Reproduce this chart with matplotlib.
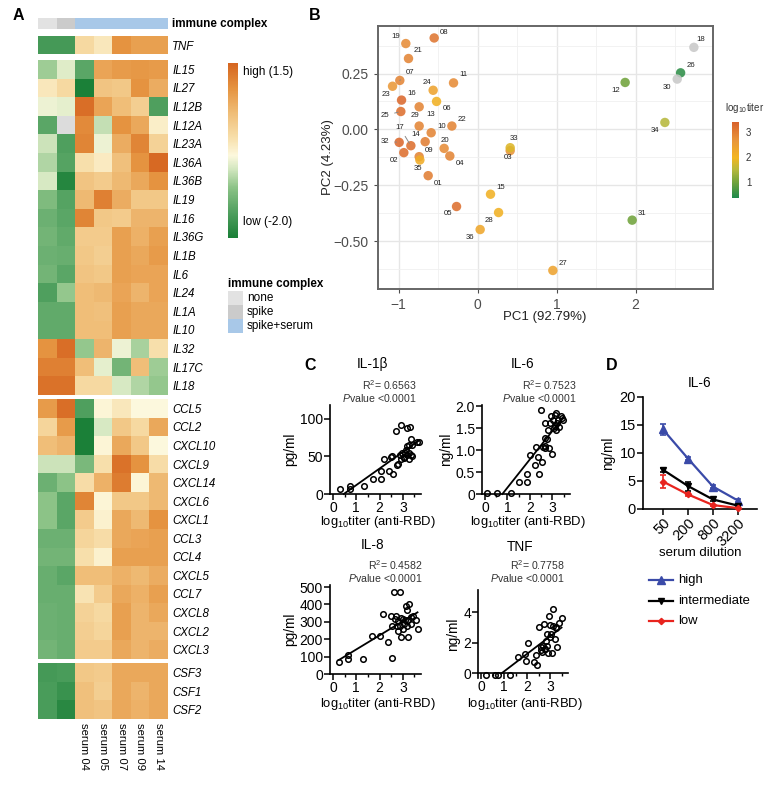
import numpy as np
import matplotlib
matplotlib.use('Agg')
import matplotlib.pyplot as plt
from matplotlib.colors import LinearSegmentedColormap, ListedColormap, Normalize
from matplotlib.patches import Rectangle
from matplotlib.lines import Line2D
import matplotlib.cm as cm

plt.rcParams['font.family'] = ['Liberation Sans', 'DejaVu Sans']
plt.rcParams['mathtext.fontset'] = 'custom'
plt.rcParams['mathtext.rm'] = 'Liberation Sans'
plt.rcParams['mathtext.it'] = 'Liberation Sans:italic'
plt.rcParams['mathtext.bf'] = 'Liberation Sans:bold'

nan = np.nan

# ---------------- Panel A data ----------------
hm_columns = ['none', 'spike', 'serum 04', 'serum 05', 'serum 07', 'serum 09', 'serum 14']
hm_complex = ['none', 'spike', 'spike+serum', 'spike+serum', 'spike+serum', 'spike+serum', 'spike+serum']
complex_levels = ['none', 'spike', 'spike+serum']
complex_colors = ['#e2e2e2', '#cbcbcb', '#a8c8e8']

tnf_genes = ['TNF']
tnf_values = [[-1.6, -1.6, 0.1, -0.1, 1.0, 0.85, 0.85]]

il_genes = ['IL15', 'IL27', 'IL12B', 'IL12A', 'IL23A', 'IL36A', 'IL36B', 'IL19', 'IL16',
            'IL36G', 'IL1B', 'IL6', 'IL24', 'IL1A', 'IL10', 'IL32', 'IL17C', 'IL18']
il_values = [
    [-0.9, -0.55, -1.4, 0.8, 0.9, 0.95, 0.9],
    [-0.1, 0.1, -2.0, 0.4, 0.35, 1.0, 0.7],
    [-0.45, -0.5, 1.4, 0.8, 0.5, 0.25, -1.5],
    [-1.4, nan, 1.1, -0.7, 1.0, 0.75, -0.2],
    [-0.65, -1.5, 1.15, -0.45, 0.7, 1.15, 0.2],
    [-0.8, -1.45, 0.0, -0.15, 0.45, 1.0, 1.45],
    [-0.6, -1.9, 0.4, 0.3, 0.55, 0.75, 1.0],
    [-1.1, -1.45, 0.55, 1.2, 0.7, 0.35, 0.35],
    [-1.25, -1.4, 1.15, 0.35, 0.3, 0.6, 0.6],
    [-1.2, -1.35, 0.3, 0.3, 0.85, 0.65, 0.85],
    [-1.25, -1.3, 0.35, 0.25, 0.85, 0.75, 0.9],
    [-1.2, -1.4, 0.4, 0.35, 0.85, 0.8, 0.8],
    [-1.5, -0.95, 0.5, 0.55, 0.8, 0.6, 0.8],
    [-1.35, -1.35, 0.5, 0.45, 0.85, 0.75, 0.75],
    [-1.35, -1.35, 0.5, 0.5, 0.85, 0.75, 0.75],
    [1.0, 1.4, -0.95, 0.6, -0.45, -0.85, 0.0],
    [1.2, 1.2, 0.5, -0.5, -1.2, 0.5, -0.9],
    [1.35, 1.35, 0.1, 0.1, -0.6, -0.8, -0.95],
]

chem_genes = ['CCL5', 'CCL2', 'CXCL10', 'CXCL9', 'CXCL14', 'CXCL6', 'CXCL1', 'CCL3', 'CCL4',
              'CXCL5', 'CCL7', 'CXCL8', 'CXCL2', 'CXCL3']
chem_values = [
    [0.9, 1.4, -1.5, -0.3, -0.1, -0.35, -0.35],
    [0.15, 0.9, -2.0, -0.6, 0.35, 0.1, 0.75],
    [0.5, 0.6, -2.0, -0.3, 0.75, 0.35, -0.35],
    [-0.65, -0.65, -1.15, 0.0, 1.35, 1.0, 0.05],
    [-1.25, -1.0, 0.05, 0.65, 1.25, -0.3, 0.55],
    [-1.0, -1.4, 1.15, -0.3, 0.35, 0.35, 0.55],
    [-1.0, -1.4, 0.3, -0.25, 0.75, 0.55, 1.0],
    [-1.25, -1.25, 0.15, 0.05, 0.75, 0.8, 0.85],
    [-1.2, -1.2, 0.0, -0.25, 0.85, 0.85, 0.85],
    [-1.3, -1.4, 0.5, 0.5, 0.65, 0.55, 0.7],
    [-1.3, -1.3, -0.05, 0.3, 0.75, 0.65, 0.85],
    [-1.25, -1.3, 0.2, 0.1, 0.85, 0.6, 0.75],
    [-1.25, -1.3, 0.25, 0.15, 0.85, 0.6, 0.6],
    [-1.2, -1.3, 0.3, 0.3, 0.75, 0.6, 0.7],
]

csf_genes = ['CSF3', 'CSF1', 'CSF2']
csf_values = [
    [-1.6, -1.55, 0.35, 0.3, 0.75, 0.75, 0.75],
    [-1.55, -1.7, 0.45, 0.25, 0.75, 0.6, 0.75],
    [-1.55, -1.85, 0.45, 0.4, 0.75, 0.65, 0.75],
]

# ---------------- Panel B data ----------------
pca_ids = ['01', '02', '03', '04', '05', '06', '07', '08', '09', '10', '11', '12',
           '13', '14', '15', '16', '17', '18', '19', '20', '21', '22', '23', '24',
           '25', '26', '27', '28', '29', '30', '31', '32', '33', '34', '35', '36']
pc1 = [-0.625, -0.933, 0.413, -0.351, -0.266, -0.519, -0.984, -0.549, -0.739, -0.587, -0.304, 1.868,
       -0.739, -0.663, 0.164, -0.962, -0.844, 2.738, -0.908, -0.423, -0.874, -0.325, -1.076, -0.562,
       -0.971, 2.570, 0.953, 0.266, -0.739, 2.527, 1.957, -0.992, 0.413, 2.371, -0.730, 0.033]
pc2 = [-0.207, -0.104, -0.095, -0.119, -0.345, 0.125, 0.219, 0.409, -0.122, -0.015, 0.208, 0.210,
       0.015, -0.055, -0.290, 0.131, -0.073, 0.367, 0.384, -0.085, 0.317, 0.015, 0.193, 0.175,
       0.080, 0.253, -0.631, -0.372, 0.101, 0.225, -0.406, -0.058, -0.082, 0.031, -0.137, -0.448]
log10_titer = [3.0, 3.2, 2.7, 2.9, 3.2, 2.1, 2.9, 3.1, 2.9, 2.9, 2.8, 1.0,
               2.9, 3.0, 2.1, 3.3, 3.2, nan, 2.8, 2.8, 2.9, 2.9, 2.6, 2.4,
               3.2, 0.5, 2.4, 2.1, 2.9, nan, 1.0, 3.3, 1.8, 1.5, 2.2, 2.3]
# label offsets (px right, px down) -- layout only
pca_label_offset = {
    '19': (-10, -7), '08': (10, -5), '21': (10, -8), '07': (10, -8), '23': (-7, 8), '24': (-6, -8),
    '11': (10, -8), '16': (10, -7), '06': (10, 7), '25': (-16, 4), '29': (-4, 9), '13': (12, -12),
    '22': (10, -7), '10': (10, -6), '17': (-11, -18), '14': (-9, -7), '32': (-14, -1), '20': (1, -8),
    '09': (10, -6), '02': (-10, 8), '35': (-2, 8), '04': (10, 8), '01': (10, 8), '33': (4, -9),
    '03': (-2, 7), '15': (10, -7), '05': (-9, 7), '28': (-10, 8), '36': (-10, 8), '27': (10, -7),
    '12': (-9, 8), '18': (7, -8), '26': (10, -7), '30': (-10, 8), '34': (-10, 8), '31': (10, -7)}
pca_segments = ['07', '25', '17', '32']

# ---------------- Panel C data ----------------
il1b_x = [0.29, 0.71, 0.71, 1.35, 1.7, 2.07, 2.07, 2.2, 2.41, 2.59, 2.5, 2.54, 2.7, 2.91, 3.16, 3.31,
          2.75, 2.79, 2.87, 2.97, 3.03, 2.91, 3.09, 3.16, 3.26, 3.35, 3.41, 3.19, 3.26, 3.38, 3.06,
          3.35, 3.62, 3.7, 3.26, 3.13]
il1b_y = [6, 10, 7, 10, 20, 20, 31, 46, 30, 26, 49, 50, 84, 92, 88, 89, 38, 40, 52, 54, 49, 46, 54,
          64, 65, 73, 65, 52, 46, 51, 48, 52, 69, 69, 54, 59]
il6_x = [0.07, 0.54, 1.16, 1.52, 1.87, 1.87, 1.99, 2.22, 2.28, 2.36, 2.39, 2.48, 2.54, 2.57, 2.65,
         2.65, 2.68, 2.65, 2.75, 2.83, 2.8, 2.9, 2.94, 3.0, 3.04, 3.12, 3.12, 3.06, 3.2, 3.26, 3.17,
         3.38, 3.41, 3.49, 3.17, 3.29]
il6_y = [0.02, 0.02, 0.03, 0.28, 0.28, 0.46, 0.89, 0.66, 1.08, 0.84, 0.46, 1.92, 0.72, 1.07, 1.10,
         1.27, 1.63, 1.04, 1.25, 1.04, 1.45, 1.62, 1.77, 0.92, 1.69, 1.81, 1.54, 1.5, 1.63, 1.69, 1.85,
         1.79, 1.73, 1.69, 1.47, 1.53]
il8_x = [0.25, 0.66, 0.66, 1.28, 1.66, 2.03, 2.13, 2.37, 2.54, 2.49, 2.69, 2.63, 2.87, 2.53, 2.68,
         2.78, 2.78, 2.87, 2.9, 2.99, 2.99, 3.1, 3.12, 3.16, 3.22, 3.28, 3.34, 3.34, 3.43, 3.22, 3.57,
         3.63, 3.04, 2.93, 2.75, 3.16]
il8_y = [70, 84, 109, 84, 217, 221, 347, 183, 91, 331, 331, 469, 472, 278, 316, 305, 248, 274, 213,
         316, 259, 309, 389, 366, 309, 400, 328, 286, 331, 210, 312, 261, 290, 324, 274, 274]
tnf_x = [0.21, 0.62, 0.74, 1.24, 1.59, 1.91, 1.94, 2.06, 2.29, 2.38, 2.44, 2.53, 2.59, 2.65, 2.71,
         2.75, 2.79, 2.82, 2.88, 2.88, 2.94, 3.0, 3.0, 3.09, 3.15, 3.15, 3.21, 3.24, 3.29, 3.41, 3.5,
         2.91, 2.76, 3.03, 3.26, 2.62]
tnf_y = [-0.12, -0.12, -0.12, -0.12, 1.09, 1.25, 0.81, 1.97, 0.72, 1.18, 0.57, 3.02, 1.53, 1.42, 1.79,
         3.24, 1.62, 2.14, 1.79, 2.58, 3.72, 3.15, 2.40, 1.36, 4.2, 3.1, 2.23, 3.02, 1.75, 3.32, 3.63,
         1.31, 1.57, 2.54, 2.93, 1.75]
c_r2 = ['0.6563', '0.7523', '0.4582', '0.7758']

# ---------------- Panel D data ----------------
dilutions = ['50', '200', '800', '3200']
d_groups = ['high', 'intermediate', 'low']
d_high = [14.2, 9.0, 4.0, 1.5]
d_high_err = [0.9, 0.3, 0.2, 0.3]
d_inter = [7.0, 4.1, 1.7, 0.6]
d_inter_err = [0.4, 0.8, 0.2, 0.1]
d_low = [4.9, 2.6, 0.7, 0.15]
d_low_err = [1.1, 0.3, 0.1, 0.05]

# ================= figure =================
W, H = 780, 793
fig = plt.figure(figsize=(W / 100, H / 100), dpi=100)


def box(l, t, r, b):
    return fig.add_axes([l / W, 1 - b / H, (r - l) / W, (b - t) / H])


def fx(x):
    return x / W


def fy(y):
    return 1 - y / H


def ftext(x, y, s, **kw):
    fig.text(fx(x), fy(y), s, **kw)


# ---------- Panel A ----------
hm_cmap = LinearSegmentedColormap.from_list('hm', [
    (0.0, '#1b8038'), (0.5 / 3.5, '#50a05f'), (1.0 / 3.5, '#8cc387'), (1.4 / 3.5, '#d7e9c3'),
    (1.65 / 3.5, '#fdf9de'), (2.0 / 3.5, '#f8e0ac'), (2.5 / 3.5, '#f0be78'), (3.0 / 3.5, '#e69441'),
    (1.0, '#d66621')])
hm_cmap.set_bad('#dcdcdc')
hm_norm = Normalize(-2.0, 1.5)

ax = box(38, 18, 168, 29)
ax.imshow([[complex_levels.index(c) for c in hm_complex]], cmap=ListedColormap(complex_colors),
          vmin=-0.5, vmax=2.5, aspect='auto', interpolation='nearest')
ax.axis('off')
ftext(172, 24, 'immune complex', fontsize=8.4, fontweight='bold', va='center', ha='left')

blocks = [((36, 54), tnf_genes, tnf_values), ((60, 395), il_genes, il_values),
          ((399, 659), chem_genes, chem_values), ((663, 719), csf_genes, csf_values)]
for (t, b), genes, vals in blocks:
    ax = box(38, t, 168, b)
    ax.imshow(np.array(vals, dtype=float), cmap=hm_cmap, norm=hm_norm, aspect='auto',
              interpolation='nearest')
    for s in ax.spines.values():
        s.set_visible(False)
    ax.yaxis.tick_right()
    ax.set_yticks(range(len(genes)))
    ax.set_yticklabels(genes, fontsize=8.3, fontstyle='italic')
    ax.tick_params(axis='y', length=0, pad=3)
    ax.set_xticks([])
last_ax = ax
last_ax.set_xticks(range(2, 7))
last_ax.set_xticklabels(hm_columns[2:], rotation=-90, fontsize=8.1, va='top', ha='center')
last_ax.tick_params(axis='x', length=0, pad=3)

# colorbar A
cax = box(228, 63, 238, 238)
cax.imshow(np.linspace(1.5, -2.0, 200)[:, None], cmap=hm_cmap, norm=hm_norm, aspect='auto')
cax.axis('off')
ftext(243, 72, 'high (1.5)', fontsize=8.5, va='center')
ftext(243, 222, 'low (-2.0)', fontsize=8.5, va='center')

# immune complex legend
ftext(228, 284, 'immune complex', fontsize=8.4, fontweight='bold', va='center')
for i, (lev, col) in enumerate(zip(complex_levels, complex_colors)):
    top = 291 + 14 * i
    fig.add_artist(Rectangle((fx(228), fy(top + 14)), 15 / W, 14 / H, transform=fig.transFigure,
                             facecolor=col, edgecolor='none'))
    ftext(247, top + 7, lev, fontsize=8.5, va='center')

ftext(18, 15, 'A', fontsize=11.5, fontweight='bold', va='center', ha='center')

# ---------- Panel B ----------
titer_cmap = LinearSegmentedColormap.from_list('titer', [
    (0.0, '#1e8a4c'), (0.2, '#6ea23c'), (0.38, '#b9b93c'), (0.53, '#f3b61f'),
    (0.75, '#e9973b'), (1.0, '#d8612b')])
titer_norm = Normalize(0.36, 3.42)

axb = box(378, 26, 713, 289)
axb.set_xlim(-1.26, 2.98)
axb.set_ylim(-0.714, 0.4625)
axb.set_xticks([-1, 0, 1, 2])
axb.set_xticklabels(['\u22121', '0', '1', '2'])
axb.set_yticks([-0.5, -0.25, 0, 0.25])
axb.set_yticklabels(['\u22120.50', '\u22120.25', '0.00', '0.25'])
axb.set_xticks([-0.5, 0.5, 1.5, 2.5], minor=True)
axb.set_yticks([-0.625, -0.375, -0.125, 0.125, 0.375], minor=True)
axb.grid(True, which='major', color='#e6e6e6', lw=1.0)
axb.grid(True, which='minor', color='#f0f0f0', lw=0.6)
axb.set_axisbelow(True)
axb.tick_params(which='major', labelsize=10, labelcolor='#4d4d4d', color='#4d4d4d', length=3, width=0.8)
axb.tick_params(which='minor', length=0)
for s in axb.spines.values():
    s.set_color('#666666')
    s.set_linewidth(1.4)
cols = [titer_cmap(titer_norm(t)) if not np.isnan(t) else '#c9c9c9' for t in log10_titer]
axb.scatter(pc1, pc2, s=46, c=cols, alpha=0.88, edgecolors='none', zorder=3)
for sid, x, y in zip(pca_ids, pc1, pc2):
    dx, dy = pca_label_offset[sid]
    ap = dict(arrowstyle='-', color='#888888', lw=0.7, shrinkA=2, shrinkB=2) if sid in pca_segments else None
    axb.annotate(sid, (x, y), xytext=(dx * 0.72, -dy * 0.72), textcoords='offset points',
                 fontsize=5.6, ha='center', va='center', color='#222222', arrowprops=ap, zorder=4)
ftext(545, 317, 'PC1 (92.79%)', fontsize=9.5, ha='center', va='center', color='#222222')
ftext(328, 157, 'PC2 (4.23%)', fontsize=9.5, ha='center', va='center', rotation=90, color='#222222')
ftext(315, 15, 'B', fontsize=11.5, fontweight='bold', va='center', ha='center')

cbx = box(732, 122, 739, 198)
sm = cm.ScalarMappable(norm=titer_norm, cmap=titer_cmap)
cb = fig.colorbar(sm, cax=cbx, ticks=[1, 2, 3])
cb.outline.set_visible(False)
cbx.tick_params(labelsize=7, length=2, color='white', pad=3, labelcolor='#333333')
ftext(725, 108, 'log$_{10}$titer', fontsize=7, va='center', color='#333333')

# ---------- Panel C ----------
def prism(ax):
    for s in ['top', 'right']:
        ax.spines[s].set_visible(False)
    for s in ['left', 'bottom']:
        ax.spines[s].set_linewidth(1.2)
    ax.tick_params(which='major', length=4, width=1.1, labelsize=10.0, pad=1.0)
    ax.tick_params(which='minor', length=2, width=1.0)


# (title, x, y, axes box, ylim, yticks, yticklabels, ylabel, R2, row text y's, R2 right edge)
c_specs = [
    ('IL-1\u03b2', il1b_x, il1b_y, (330, 405, 421, 494), (0, 118), [0, 50, 100], ['0', '50', '100'],
     'pg/ml', c_r2[0], (364, 385, 398.5, 522), 417),
    ('IL-6', il6_x, il6_y, (482, 405, 570, 494), (0, 2.03), [0, 0.5, 1.0, 1.5, 2.0],
     ['0', '0.5', '1.0', '1.5', '2.0'], 'ng/ml', c_r2[1], (364, 385, 398.5, 522), 577),
    ('IL-8', il8_x, il8_y, (330, 585, 421, 674), (0, 512), [0, 100, 200, 300, 400, 500],
     ['0', '100', '200', '300', '400', '500'], 'pg/ml', c_r2[2], (545, 565, 578.5, 704), 423),
    ('TNF', tnf_x, tnf_y, (478, 590, 568, 678), (-0.3, 5.44), [0, 2, 4], ['0', '2', '4'],
     'ng/ml', c_r2[3], (547, 565, 578.5, 704), 565),
]
for title, xs, ys, (l, t, r, b), ylim, yt, ytl, ylab, r2, (ty, ry, py, xly), rr in c_specs:
    ax = box(l, t, r, b)
    prism(ax)
    ax.set_xlim(-0.13, 3.78)
    ax.set_ylim(*ylim)
    ax.spines['bottom'].set_position(('data', 0))
    ax.set_xticks([0, 1, 2, 3])
    ax.set_xticklabels(['0', '1', '2', '3'])
    ax.set_xticks([0.5, 1.5, 2.5, 3.5], minor=True)
    ax.set_yticks(yt)
    ax.set_yticklabels(ytl)
    xs_a = np.array(xs)
    ys_a = np.array(ys)
    k, c0 = np.polyfit(xs_a, ys_a, 1)
    x0 = max(xs_a.min(), -c0 / k)
    xl = np.array([x0, xs_a.max()])
    ax.plot(xl, k * xl + c0, color='black', lw=1.3, zorder=2, clip_on=False)
    ax.plot(xs_a, ys_a, 'o', ms=4.0, mfc='none', mec='black', mew=1.1, zorder=3, clip_on=False)
    cx = (l + r) / 2
    ftext(cx - 3, ty, title, fontsize=9.8, ha='center', va='center')
    ftext(rr, ry, 'R$^2$= ' + r2, fontsize=7.6, ha='right', va='center', color='#333333')
    ftext(rr, py, '$\\it{P}$value <0.0001', fontsize=7.6, ha='right', va='center', color='#333333')
    ax.set_ylabel(ylab, fontsize=9.8, labelpad=2)
    ftext(cx + 2, xly, 'log$_{10}$titer (anti-RBD)', fontsize=9.4, ha='center', va='center')

ftext(310, 366, 'C', fontsize=11.5, fontweight='bold', va='center', ha='center')

# ---------- Panel D ----------
axd = box(643, 397, 757, 509)
prism(axd)
xi = np.arange(len(dilutions))
d_styles = [('#3a4aa8', '^', 5.5), ('black', 'v', 5.0), ('#e8241e', 'D', 3.2)]
for vals, errs, (col, mk, ms) in zip([d_high, d_inter, d_low], [d_high_err, d_inter_err, d_low_err], d_styles):
    axd.errorbar(xi, vals, yerr=errs, color=col, marker=mk, ms=ms, lw=1.6, capsize=2.2,
                 elinewidth=1.2, capthick=1.2, clip_on=False, zorder=3)
axd.set_xlim(-0.8, 3.76)
axd.set_ylim(0, 20)
axd.set_yticks([0, 5, 10, 15, 20])
axd.set_xticks(xi)
axd.set_xticklabels(dilutions, rotation=45, ha='right', rotation_mode='anchor', fontsize=10.5)
axd.tick_params(axis='y', labelsize=10.5)
axd.set_ylabel('ng/ml', fontsize=9.8, labelpad=3)
ftext(700, 383, 'IL-6', fontsize=9.8, ha='center', va='center')
ftext(700, 553, 'serum dilution', fontsize=9.5, ha='center', va='center')
for i, (lab, (col, mk, ms)) in enumerate(zip(d_groups, d_styles)):
    yy = 580 + 20.5 * i
    fig.add_artist(Line2D([fx(649), fx(673)], [fy(yy), fy(yy)], transform=fig.transFigure,
                          color=col, lw=1.6))
    fig.add_artist(Line2D([fx(661)], [fy(yy)], transform=fig.transFigure, color=col,
                          marker=mk, ms=ms, lw=0))
    ftext(678, yy, lab, fontsize=9.4, va='center')
ftext(612, 366, 'D', fontsize=11.5, fontweight='bold', va='center', ha='center')

fig.savefig('out.png', dpi=100)
